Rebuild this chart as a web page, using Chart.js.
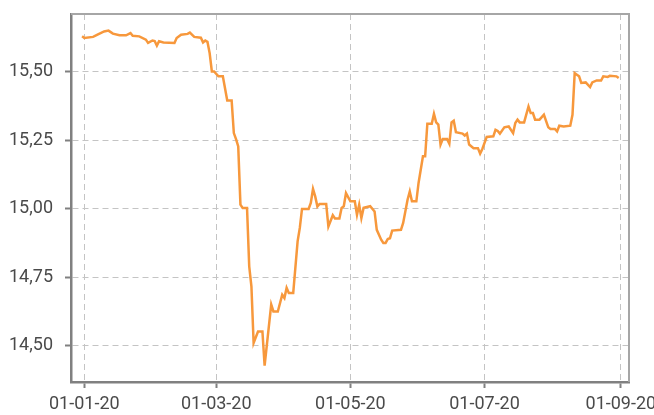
<!DOCTYPE html>
<html>
<head>
<meta charset="utf-8">
<script src="https://cdn.jsdelivr.net/npm/chart.js@4"></script>
<style>
  html, body { margin: 0; padding: 0; background: #fff; overflow: hidden; }
  #wrap { width: 654px; height: 415px; }
</style>
</head>
<body>
<div id="wrap"><canvas id="rateChart"></canvas></div>
<script>
const dates = [
  "2019-12-31", "2020-01-01", "2020-01-05", "2020-01-07", "2020-01-10", "2020-01-12", "2020-01-14",
  "2020-01-17", "2020-01-20", "2020-01-22", "2020-01-23", "2020-01-26", "2020-01-29", "2020-01-30",
  "2020-02-01", "2020-02-02", "2020-02-03", "2020-02-04", "2020-02-06", "2020-02-11", "2020-02-12",
  "2020-02-14", "2020-02-17", "2020-02-18", "2020-02-20", "2020-02-23", "2020-02-24", "2020-02-25",
  "2020-02-26", "2020-02-27", "2020-02-28", "2020-02-29", "2020-03-02", "2020-03-04", "2020-03-06",
  "2020-03-08", "2020-03-09", "2020-03-10", "2020-03-11", "2020-03-12", "2020-03-13", "2020-03-15",
  "2020-03-16", "2020-03-17", "2020-03-18", "2020-03-20", "2020-03-22", "2020-03-23", "2020-03-26",
  "2020-03-27", "2020-03-29", "2020-03-31", "2020-04-01", "2020-04-02", "2020-04-03", "2020-04-05",
  "2020-04-07", "2020-04-08", "2020-04-09", "2020-04-12", "2020-04-13", "2020-04-14", "2020-04-15",
  "2020-04-16", "2020-04-17", "2020-04-20", "2020-04-21", "2020-04-23", "2020-04-24", "2020-04-26",
  "2020-04-27", "2020-04-28", "2020-04-29", "2020-05-01", "2020-05-03", "2020-05-04", "2020-05-05",
  "2020-05-06", "2020-05-07", "2020-05-10", "2020-05-12", "2020-05-13", "2020-05-15", "2020-05-16",
  "2020-05-17", "2020-05-18", "2020-05-19", "2020-05-20", "2020-05-24", "2020-05-25", "2020-05-27",
  "2020-05-28", "2020-05-29", "2020-05-31", "2020-06-01", "2020-06-03", "2020-06-04", "2020-06-05",
  "2020-06-07", "2020-06-08", "2020-06-09", "2020-06-10", "2020-06-11", "2020-06-12", "2020-06-14",
  "2020-06-15", "2020-06-16", "2020-06-17", "2020-06-18", "2020-06-21", "2020-06-22", "2020-06-23",
  "2020-06-24", "2020-06-26", "2020-06-28", "2020-06-29", "2020-06-30", "2020-07-02", "2020-07-05",
  "2020-07-06", "2020-07-07", "2020-07-08", "2020-07-10", "2020-07-12", "2020-07-14", "2020-07-15",
  "2020-07-16", "2020-07-17", "2020-07-19", "2020-07-21", "2020-07-22", "2020-07-23", "2020-07-24",
  "2020-07-26", "2020-07-28", "2020-07-30", "2020-07-31", "2020-08-02", "2020-08-03", "2020-08-04",
  "2020-08-06", "2020-08-09", "2020-08-10", "2020-08-11", "2020-08-12", "2020-08-13", "2020-08-14",
  "2020-08-16", "2020-08-18", "2020-08-19", "2020-08-21", "2020-08-23", "2020-08-24", "2020-08-26",
  "2020-08-27", "2020-08-30", "2020-08-31"
];

const values = [
  15.629, 15.623, 15.627, 15.635, 15.647, 15.650, 15.639,
  15.633, 15.633, 15.641, 15.631, 15.629, 15.617, 15.605,
  15.614, 15.612, 15.595, 15.611, 15.607, 15.605, 15.623,
  15.635, 15.638, 15.643, 15.627, 15.624, 15.607, 15.614,
  15.609, 15.568, 15.501, 15.501, 15.483, 15.483, 15.395,
  15.395, 15.276, 15.254, 15.227, 15.015, 15.003, 15.003,
  14.789, 14.716, 14.510, 14.552, 14.552, 14.427, 14.650,
  14.625, 14.625, 14.686, 14.674, 14.711, 14.692, 14.692,
  14.881, 14.930, 14.999, 14.999, 15.021, 15.072, 15.045,
  15.008, 15.017, 15.017, 14.935, 14.976, 14.964, 14.964,
  15.003, 15.009, 15.057, 15.027, 15.027, 14.978, 15.015,
  14.966, 15.003, 15.009, 14.990, 14.923, 14.887, 14.875,
  14.875, 14.889, 14.892, 14.920, 14.923, 14.948, 15.033,
  15.063, 15.027, 15.027, 15.094, 15.191, 15.191, 15.310,
  15.310, 15.346, 15.315, 15.307, 15.234, 15.254, 15.254,
  15.237, 15.315, 15.321, 15.279, 15.274, 15.267, 15.274,
  15.234, 15.221, 15.221, 15.201, 15.218, 15.262, 15.264,
  15.288, 15.284, 15.274, 15.297, 15.300, 15.276, 15.313,
  15.325, 15.315, 15.315, 15.373, 15.349, 15.349, 15.325,
  15.325, 15.343, 15.297, 15.291, 15.291, 15.282, 15.303,
  15.300, 15.303, 15.343, 15.495, 15.489, 15.483, 15.459,
  15.461, 15.444, 15.461, 15.468, 15.468, 15.483, 15.481,
  15.485, 15.483, 15.477
];

const xTickDates = ["2020-01-01", "2020-03-01", "2020-05-01", "2020-07-01", "2020-09-01"];
const xTickLabels = ["01-01-20", "01-03-20", "01-05-20", "01-07-20", "01-09-20"];
const yTicks = [14.5, 14.75, 15.0, 15.25, 15.5];

// days since 1 Jan 2020
function dayNum(s) {
  const p = s.split("-").map(Number);
  return (Date.UTC(p[0], p[1] - 1, p[2]) - Date.UTC(2020, 0, 1)) / 86400000;
}

const points = dates.map((d, i) => ({ x: dayNum(d), y: values[i] }));
const xTickValues = xTickDates.map(dayNum);

const frame = {
  id: "frame",
  afterDraw(chart) {
    const { ctx, chartArea: a } = chart;
    ctx.save();
    ctx.strokeStyle = "#a6a6a6";
    ctx.lineWidth = 2;
    ctx.beginPath();
    ctx.moveTo(a.left, a.top);
    ctx.lineTo(a.right, a.top);
    ctx.lineTo(a.right, a.bottom);
    ctx.stroke();
    ctx.restore();
  }
};

const tickFont = { family: "Roboto", size: 18 };

new Chart(document.getElementById("rateChart"), {
  type: "line",
  data: {
    datasets: [{
      data: points,
      borderColor: "#f7983c",
      borderWidth: 2.5,
      pointRadius: 0,
      tension: 0,
      fill: false
    }]
  },
  options: {
    responsive: true,
    maintainAspectRatio: false,
    animation: false,
    layout: { padding: { top: 14, right: 25 } },
    plugins: { legend: { display: false }, tooltip: { enabled: false } },
    scales: {
      x: {
        type: "linear",
        min: -6.05,
        max: 247.7,
        afterBuildTicks: s => { s.ticks = xTickValues.map(v => ({ value: v })); },
        afterFit: s => { s.height = 33; s.paddingRight = 0; },
        ticks: {
          font: tickFont,
          color: "#4a4a4a",
          padding: 6,
          maxRotation: 0,
          autoSkip: false,
          callback: (v, i) => xTickLabels[i]
        },
        grid: { color: "#c4c4c4", tickColor: "#808080", tickWidth: 2, tickLength: 6 },
        border: { color: "#808080", width: 2.5, dash: [6, 4] }
      },
      y: {
        min: 14.3675,
        max: 15.7106,
        afterBuildTicks: s => { s.ticks = yTicks.map(v => ({ value: v })); },
        afterFit: s => { s.width = 71; s.paddingTop = 0; s.paddingBottom = 0; },
        ticks: {
          font: tickFont,
          color: "#4a4a4a",
          padding: 12,
          callback: v => v.toFixed(2).replace(".", ",")
        },
        grid: { color: "#c4c4c4", tickColor: "#808080", tickWidth: 2, tickLength: 6 },
        border: { color: "#808080", width: 2.5, dash: [6, 4] }
      }
    }
  },
  plugins: [frame]
});
</script>
</body>
</html>
